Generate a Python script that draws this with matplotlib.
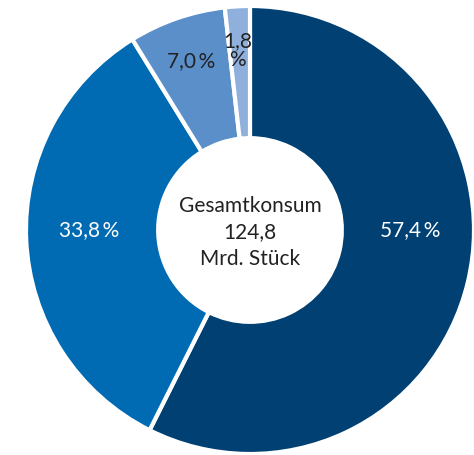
import numpy as np
import matplotlib.pyplot as plt

plt.rcParams['font.family'] = ['Lato', 'DejaVu Sans']

# data
shares = [57.4, 33.8, 7.0, 1.8]
labels = ["57,4\u2009%", "33,8\u2009%", "7,0\u2009%", "1,8\n%"]
colors = ["#004073", "#006ab3", "#5b8fca", "#8fb0dd"]
label_colors = ["white", "white", "#222222", "#222222"]
label_pos = [(0.715, 0.0), (-0.72, 0.0), (-0.265, 0.755), (-0.055, 0.80)]
center_text = "Gesamtkonsum\n124,8\nMrd. Stück"

fig = plt.figure(figsize=(4.74, 4.55), dpi=100)
ax = fig.add_axes([0, 0, 1, 1])

wedges, _ = ax.pie(shares, colors=colors, startangle=90, counterclock=False,
                   radius=1.0, wedgeprops=dict(width=0.59, edgecolor="white", linewidth=3))

for (x, y), txt, c in zip(label_pos, labels, label_colors):
    ax.text(x, y, txt, ha="center", va="center", fontsize=15, color=c, linespacing=0.95)

ax.text(0, -0.01, center_text, ha="center", va="center", fontsize=15,
        color="#222222", linespacing=1.4)

ax.set_xlim(-250 / 224, 224 / 224)
ax.set_ylim(-225 / 224, 230 / 224)
ax.set_aspect("equal")
ax.axis("off")

fig.savefig("out.png", dpi=100)
